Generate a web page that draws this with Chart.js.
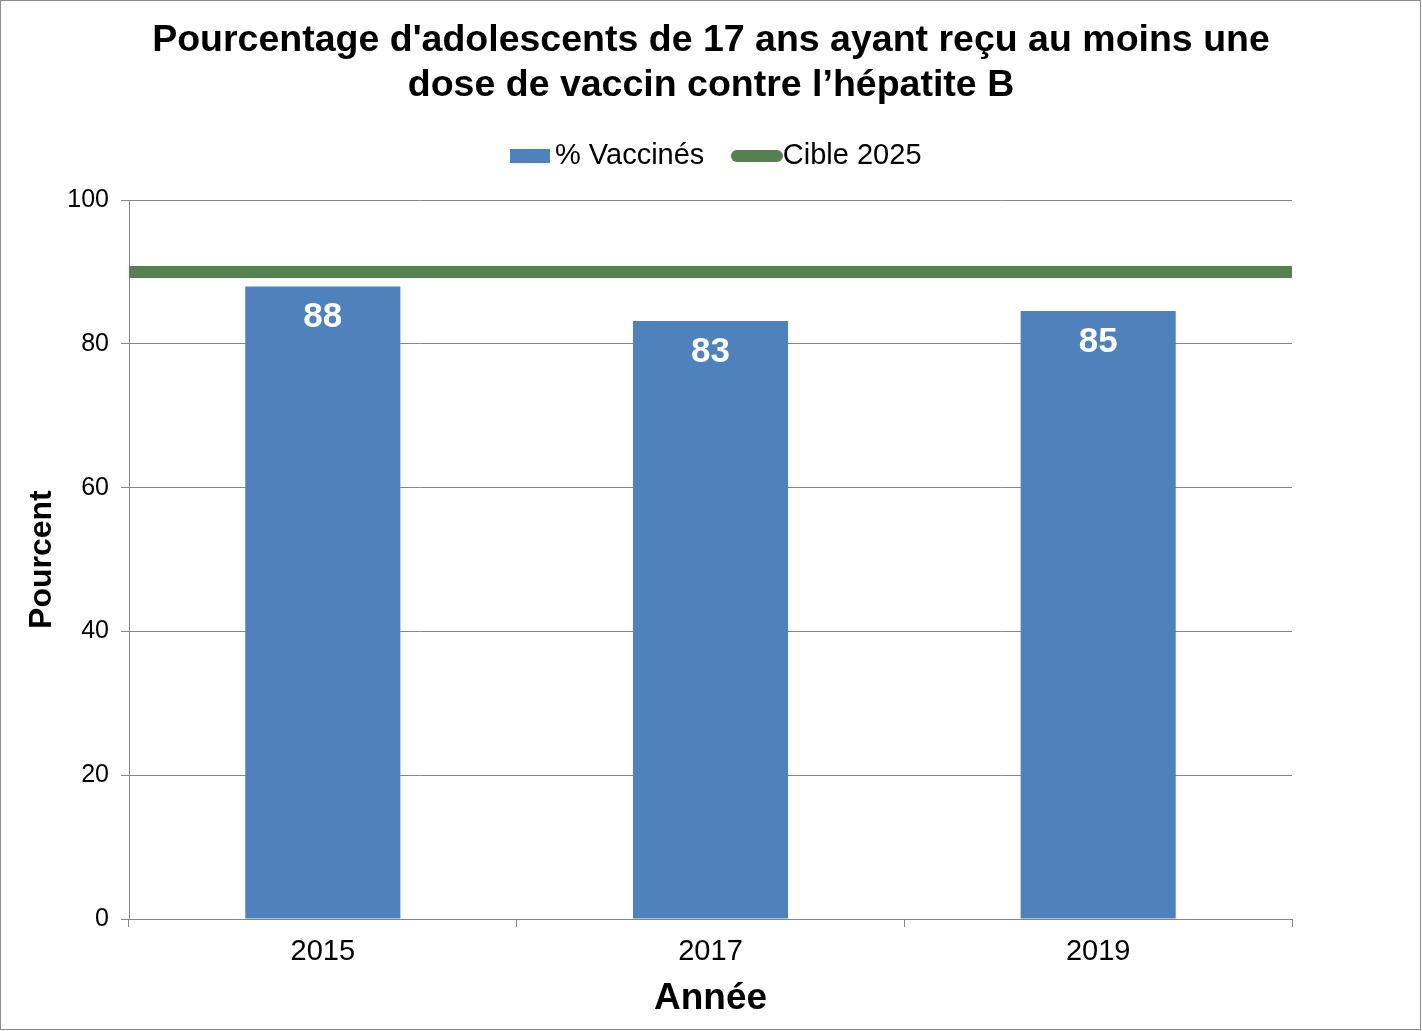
<!DOCTYPE html>
<html lang="fr">
<head>
<meta charset="utf-8">
<title>Vaccin hépatite B - adolescents de 17 ans</title>
<script src="https://cdn.jsdelivr.net/npm/chart.js@4.4.1/dist/chart.umd.min.js"></script>
<style>
  html, body { margin: 0; padding: 0; background: #fff; }
  canvas { display: block; }
</style>
</head>
<body>
<canvas id="chart" width="1422" height="1031"></canvas>
<script>
// Values
const years = ['2015', '2017', '2019'];
const vaccinated = [88, 83.2, 84.6];
const target = [90, 90, 90];
const yTicks = [0, 20, 40, 60, 80, 100];
const titleLines = ["Pourcentage d'adolescents de 17 ans ayant reçu au moins une", 'dose de vaccin contre l’hépatite B'];
const seriesNames = ['% Vaccinés', 'Cible 2025'];

const BLUE = '#4F81BD';
const GREEN = '#558150';
const GRID = '#868686';
const FONT = "'Liberation Sans', Arial, sans-serif";

Chart.defaults.font.family = FONT;
Chart.defaults.color = '#000';

// legend markers: a box for the bars, a thick rounded line for the target
function legendMarker(draw) {
    const c = document.createElement('canvas');
    c.width = 69;
    c.height = 14;
    draw(c.getContext('2d'));
    return c;
}
const barMarker = legendMarker(ctx => {
    ctx.fillStyle = BLUE;
    ctx.fillRect(24, 0, 40, 14);
});
const lineMarker = legendMarker(ctx => {
    ctx.strokeStyle = GREEN;
    ctx.lineWidth = 12;
    ctx.lineCap = 'round';
    ctx.beginPath();
    ctx.moveTo(23, 7);
    ctx.lineTo(63, 7);
    ctx.stroke();
});

// white background + grey frame round the whole picture
const frame = {
    id: 'frame',
    beforeDraw(chart) {
        const ctx = chart.ctx;
        ctx.save();
        ctx.fillStyle = '#fff';
        ctx.fillRect(0, 0, chart.width, chart.height);
        ctx.restore();
    },
    afterDraw(chart) {
        const ctx = chart.ctx;
        ctx.save();
        ctx.strokeStyle = '#8c8c8c';
        ctx.lineWidth = 1;
        ctx.strokeRect(0.5, 0.5, chart.width - 2, chart.height - 2);
        ctx.restore();
    }
};

// white value labels inside the top of each bar
const barValueLabels = {
    id: 'barValueLabels',
    afterDatasetsDraw(chart) {
        const meta = chart.getDatasetMeta(0);
        const ctx = chart.ctx;
        ctx.save();
        ctx.fillStyle = '#fff';
        ctx.font = 'bold 35px ' + FONT;
        ctx.textAlign = 'center';
        ctx.textBaseline = 'middle';
        meta.data.forEach((bar, i) => {
            ctx.fillText(Math.round(vaccinated[i]), bar.x, bar.y + 31);
        });
        ctx.restore();
    }
};

new Chart(document.getElementById('chart'), {
    data: {
        labels: years,
        datasets: [
            {
                type: 'bar',
                label: seriesNames[0],
                data: vaccinated,
                backgroundColor: BLUE,
                borderWidth: 0,
                grouped: false,
                barPercentage: 0.4,
                categoryPercentage: 1.0,
                order: 2
            },
            {
                type: 'line',
                label: seriesNames[1],
                data: target,
                xAxisID: 'x2',
                borderColor: GREEN,
                borderWidth: 12,
                pointRadius: 0,
                fill: false,
                order: 1
            }
        ]
    },
    options: {
        responsive: false,
        animation: false,
        devicePixelRatio: 1,
        layout: { padding: 0 },
        plugins: {
            title: {
                display: true,
                text: titleLines,
                color: '#000',
                font: { size: 37.5, weight: 'bold', lineHeight: 1.2 },
                padding: { top: 18, bottom: 9.5 }
            },
            legend: {
                position: 'top',
                labels: {
                    usePointStyle: true,
                    pointStyleWidth: 40,
                    boxHeight: 29,
                    padding: 24,
                    color: '#000',
                    font: { size: 29 },
                    generateLabels: () => seriesNames.map((name, i) => ({
                        text: name,
                        pointStyle: i === 0 ? barMarker : lineMarker,
                        fillStyle: 'transparent',
                        strokeStyle: 'transparent',
                        lineWidth: 0,
                        hidden: false,
                        datasetIndex: i
                    }))
                }
            },
            // empty subtitle used as a spacer between legend and plot
            subtitle: {
                display: true,
                text: '',
                weight: 500,
                font: { size: 19.7, lineHeight: 1 },
                padding: 0
            },
            tooltip: { enabled: false }
        },
        scales: {
            x: {
                type: 'category',
                offset: true,
                grid: { display: true, drawOnChartArea: false, drawTicks: true, tickLength: 8, color: GRID, offset: true },
                border: { display: true, color: GRID },
                ticks: { color: '#000', font: { size: 29 }, padding: 8 },
                title: {
                    display: true,
                    text: 'Année',
                    color: '#000',
                    font: { size: 37, weight: 'bold', lineHeight: 1.2 },
                    padding: { top: 0, bottom: 10 }
                },
                afterFit(scale) { scale.height = 112; }
            },
            x2: {
                type: 'category',
                labels: years,
                display: false,
                offset: false
            },
            y: {
                min: 0,
                max: 100,
                ticks: { stepSize: 20, color: '#000', font: { size: 25 }, padding: 12 },
                afterBuildTicks(scale) { scale.ticks = yTicks.map(v => ({ value: v })); },
                grid: { color: GRID, tickLength: 8 },
                border: { color: GRID },
                title: {
                    display: true,
                    text: 'Pourcent',
                    color: '#000',
                    font: { size: 32, weight: 'bold', lineHeight: 1.2 },
                    padding: { top: 23, bottom: 0 }
                },
                afterFit(scale) { scale.width = 129; }
            },
            // empty right-hand axis that only reserves the right margin
            yRight: {
                position: 'right',
                grid: { display: false, drawTicks: false },
                border: { display: false },
                ticks: { display: false },
                afterFit(scale) { scale.width = 130; }
            }
        }
    },
    plugins: [frame, barValueLabels]
});
</script>
</body>
</html>
